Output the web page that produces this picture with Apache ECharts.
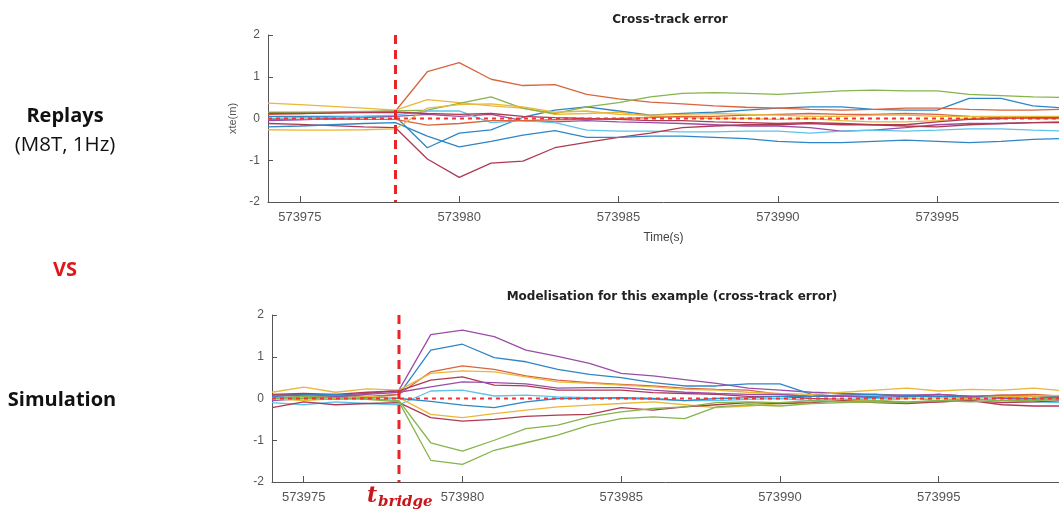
<!DOCTYPE html>
<html><head><meta charset="utf-8">
<script src="https://cdn.jsdelivr.net/npm/echarts@6/dist/echarts.min.js"></script>
<style>html,body{margin:0;padding:0;background:#fff}#c{width:1059px;height:513px}</style>
</head><body><div id="c"></div><script>
// time stamps (s), 1 Hz
const times = [573974,573975,573976,573977,573978,573979,573980,573981,573982,573983,573984,573985,573986,573987,573988,573989,573990,573991,573992,573993,573994,573995,573996,573997,573998,573999];
const xTickValues = [573975,573980,573985,573990,573995];
const tBridge = 573978;

// Replays (M8T, 1Hz) - cross-track error (m)
const rep1 = [0.05,0.05,0.05,0.05,0.05,-0.7,-0.35,-0.27,0.03,0.2,0.28,0.18,0.08,0.12,0.15,0.2,0.25,0.28,0.28,0.22,0.2,0.2,0.48,0.48,0.3,0.25];
const rep2 = [0.1,0.12,0.14,0.16,0.18,1.12,1.34,0.94,0.79,0.81,0.58,0.47,0.39,0.35,0.3,0.27,0.25,0.22,0.2,0.22,0.25,0.25,0.22,0.2,0.2,0.22];
const rep3 = [0.37,0.33,0.29,0.25,0.2,0.45,0.38,0.3,0.25,0.1,0.12,0.15,0.05,0.03,0.0,0.0,-0.02,0.0,-0.05,-0.08,-0.08,-0.05,0.0,0.0,0.02,0.0];
const rep4 = [-0.05,-0.03,0.0,0.02,0.05,0.1,0.05,0.1,-0.05,-0.08,-0.05,-0.08,-0.1,-0.12,-0.15,-0.18,-0.18,-0.22,-0.3,-0.28,-0.22,-0.15,-0.12,-0.12,-0.1,-0.08];
const rep5 = [0.15,0.15,0.16,0.17,0.18,0.2,0.36,0.52,0.24,0.12,0.28,0.38,0.52,0.6,0.62,0.6,0.58,0.62,0.66,0.68,0.66,0.66,0.58,0.55,0.52,0.5];
const rep6 = [0.0,0.02,0.03,0.05,0.08,0.18,0.18,-0.1,-0.05,-0.1,-0.28,-0.3,-0.3,-0.32,-0.32,-0.3,-0.3,-0.35,-0.3,-0.28,-0.3,-0.28,-0.25,-0.25,-0.28,-0.3];
const rep7 = [-0.12,-0.14,-0.17,-0.2,-0.22,-0.97,-1.41,-1.07,-1.02,-0.7,-0.57,-0.45,-0.35,-0.22,-0.18,-0.15,-0.15,-0.12,-0.15,-0.15,-0.15,-0.08,-0.02,0.0,0.02,0.02];
const rep8 = [-0.2,-0.18,-0.15,-0.12,-0.1,-0.42,-0.68,-0.55,-0.4,-0.29,-0.45,-0.45,-0.42,-0.42,-0.45,-0.48,-0.55,-0.58,-0.58,-0.55,-0.52,-0.55,-0.58,-0.55,-0.5,-0.48];
const rep9 = [-0.02,-0.02,-0.02,-0.02,-0.02,-0.16,-0.12,-0.05,-0.05,-0.03,-0.02,0.0,0.02,0.05,0.05,0.08,0.1,0.12,0.1,0.1,0.12,0.1,0.05,0.02,0.0,0.0];
const rep10 = [-0.27,-0.28,-0.28,-0.27,-0.25,0.25,0.33,0.35,0.28,0.15,0.18,0.1,0.08,0.1,0.12,0.1,0.08,0.05,0.05,0.08,0.08,0.05,0.05,0.05,0.05,0.05];
const rep11 = [0.12,0.12,0.13,0.14,0.15,0.12,0.1,0.12,0.05,0.02,0.0,-0.02,-0.05,-0.05,-0.08,-0.1,-0.12,-0.1,-0.12,-0.15,-0.18,-0.2,-0.15,-0.12,-0.1,-0.1];

// Simulation - cross-track error (m)
const sim1 = [0.05,0.1,0.08,0.12,0.2,1.53,1.64,1.48,1.16,1.01,0.84,0.6,0.54,0.45,0.36,0.25,0.2,0.15,0.12,0.1,0.08,0.1,0.05,0.08,0.05,0.05];
const sim2 = [0.08,0.1,0.05,0.02,0.1,1.16,1.3,0.98,0.88,0.7,0.58,0.5,0.38,0.3,0.3,0.35,0.35,0.1,0.05,0.05,0.08,0.05,0.05,0.02,0.0,0.05];
const sim3 = [0.0,0.05,0.02,0.05,0.1,0.64,0.78,0.7,0.54,0.44,0.38,0.34,0.3,0.25,0.22,0.2,0.1,0.05,0.08,0.1,0.05,0.1,0.05,0.08,0.1,0.05];
const sim4 = [0.15,0.27,0.15,0.23,0.2,0.6,0.66,0.64,0.52,0.4,0.36,0.32,0.28,0.22,0.2,0.15,0.12,0.1,0.15,0.2,0.25,0.18,0.22,0.2,0.25,0.18];
const sim5 = [0.1,0.12,0.1,0.15,0.18,0.44,0.52,0.32,0.3,0.2,0.2,0.2,0.14,0.12,0.1,0.05,0.05,0.0,-0.02,-0.05,-0.1,-0.08,-0.05,-0.15,-0.18,-0.18];
const sim6 = [-0.05,0.0,0.05,0.1,0.15,0.28,0.4,0.38,0.35,0.25,0.26,0.26,0.2,0.15,0.12,0.1,0.1,0.05,0.05,0.02,0.05,0.1,0.05,0.0,-0.02,0.0];
const sim7 = [-0.1,-0.15,-0.08,-0.12,-0.15,0.18,0.2,0.06,0.08,0.04,0.02,0.0,-0.02,-0.05,-0.05,-0.02,0.0,-0.05,-0.02,0.0,0.02,-0.05,0.0,-0.05,-0.08,-0.1];
const sim8 = [0.05,0.08,0.1,0.05,0.0,-0.07,-0.16,-0.22,-0.08,0.0,0.0,0.02,0.0,-0.05,0.0,0.02,0.05,0.05,0.08,0.1,0.05,0.05,0.02,0.05,0.05,0.02];
const sim9 = [0.0,-0.05,0.0,0.05,0.02,-0.38,-0.46,-0.36,-0.28,-0.2,-0.16,-0.12,-0.08,-0.15,-0.22,-0.18,-0.12,-0.08,-0.05,-0.05,0.0,0.02,0.0,0.05,0.05,0.08];
const sim10 = [-0.22,-0.08,-0.15,-0.12,-0.1,-0.46,-0.54,-0.5,-0.43,-0.4,-0.38,-0.22,-0.28,-0.2,-0.15,-0.1,-0.12,-0.1,-0.05,-0.1,-0.12,-0.08,-0.05,-0.1,-0.08,-0.05];
const sim11 = [0.02,0.0,-0.02,0.0,-0.05,-1.06,-1.26,-1.0,-0.72,-0.64,-0.44,-0.32,-0.24,-0.2,-0.1,-0.08,-0.1,-0.05,-0.08,-0.05,-0.08,-0.05,-0.02,-0.05,-0.05,-0.02];
const sim12 = [0.0,0.05,0.02,-0.02,-0.08,-1.48,-1.58,-1.24,-1.06,-0.88,-0.64,-0.48,-0.44,-0.48,-0.2,-0.15,-0.18,-0.12,-0.1,-0.08,-0.1,-0.05,-0.08,-0.05,-0.02,0.0];

const C = {blue:'#2f86c6', orange:'#d9653c', yellow:'#e9b73a', purple:'#9a4ea6', green:'#85b54b', lblue:'#5ec2ea', dred:'#ae3a52'};
const repSeries = [[rep1,C.blue],[rep2,C.orange],[rep3,C.yellow],[rep4,C.purple],[rep5,C.green],[rep6,C.lblue],[rep7,C.dred],[rep8,C.blue],[rep9,C.orange],[rep10,C.yellow],[rep11,C.dred]];
const simSeries = [[sim1,C.purple],[sim2,C.blue],[sim3,C.orange],[sim4,C.yellow],[sim5,C.dred],[sim6,C.purple],[sim7,C.lblue],[sim8,C.blue],[sim9,C.yellow],[sim10,C.dred],[sim11,C.green],[sim12,C.green]];

const axisCol = '#555';
function xAxis(gi, min, max, name){
  return {type:'value', gridIndex:gi, min:min, max:max,
    name:name||'', nameLocation:'middle', nameGap:30, nameTextStyle:{color:'#444',fontSize:12,fontFamily:'Liberation Sans'},
    axisLine:{show:true,onZero:false,lineStyle:{color:axisCol,width:1}},
    axisTick:{show:true,inside:true,length:6,customValues:xTickValues,lineStyle:{color:axisCol}},
    axisLabel:{customValues:xTickValues,color:'#555',fontSize:13,fontFamily:'Liberation Sans',margin:9,formatter:v=>String(v)},
    splitLine:{show:false}};
}
function yAxis(gi, name){
  return {type:'value', gridIndex:gi, min:-2, max:2, interval:1,
    name:name||'', nameLocation:'middle', nameGap:30, nameTextStyle:{color:'#555',fontSize:11,fontFamily:'Liberation Sans'},
    axisLine:{show:true,lineStyle:{color:axisCol,width:1}},
    axisTick:{show:true,inside:true,length:5,lineStyle:{color:axisCol}},
    axisLabel:{color:'#555',fontSize:12,fontFamily:'Liberation Sans',margin:8},
    splitLine:{show:false}};
}
const series = [];
function addLines(list, gi){
  list.forEach(([arr,col])=>{
    series.push({type:'line', xAxisIndex:gi, yAxisIndex:gi, data:times.map((t,i)=>[t,arr[i]]),
      symbol:'none', silent:true, lineStyle:{color:col,width:1.3}, z:2});
  });
  series.push({type:'line', xAxisIndex:gi, yAxisIndex:gi, data:[[times[0],0],[times[times.length-1],0]],
    symbol:'none', silent:true, lineStyle:{color:'#e8383a',width:1.8,type:[4,4]}, z:4});
  series.push({type:'line', xAxisIndex:gi, yAxisIndex:gi, data:[[tBridge,2],[tBridge,-2]],
    symbol:'none', silent:true, lineStyle:{color:'#e8262a',width:3,type:[9,6]}, z:5});
}
addLines(repSeries,0);
addLines(simSeries,1);

const chart = echarts.init(document.getElementById('c'), null, {renderer:'canvas'});
chart.setOption({
  animation:false,
  backgroundColor:'#fff',
  title:[
    {text:'Cross-track error', left:665, top:9, textAlign:'center', textStyle:{fontSize:12,fontWeight:'bold',color:'#222',fontFamily:'DejaVu Sans'}},
    {text:'Modelisation for this example (cross-track error)', left:667, top:286, textAlign:'center', textStyle:{fontSize:12,fontWeight:'bold',color:'#222',fontFamily:'DejaVu Sans'}}
  ],
  grid:[
    {left:268, top:35, height:167, right:0},
    {left:272, top:315, height:167, right:0}
  ],
  xAxis:[xAxis(0,573974,573998.82,'Time(s)'), xAxis(1,573974,573998.79,'')],
  yAxis:[yAxis(0,'xte(m)'), yAxis(1,'')],
  series:series,
  graphic:[
    {type:'text', style:{text:'Replays', x:65, y:116, align:'center', verticalAlign:'middle', fontSize:20, fontWeight:'bold', fill:'#111', fontFamily:'Open Sans'}},
    {type:'text', style:{text:'(M8T, 1Hz)', x:65, y:145, align:'center', verticalAlign:'middle', fontSize:20.5, fill:'#111', fontFamily:'Open Sans'}},
    {type:'text', style:{text:'VS', x:65, y:270, align:'center', verticalAlign:'middle', fontSize:20, fontWeight:'bold', fill:'#e3151a', fontFamily:'Open Sans'}},
    {type:'text', style:{text:'Simulation', x:62, y:400, align:'center', verticalAlign:'middle', fontSize:20, fontWeight:'bold', fill:'#111', fontFamily:'Open Sans'}},
    {type:'text', style:{text:'t', x:367, y:507, align:'left', verticalAlign:'bottom', fontSize:22, fontWeight:'bold', fontStyle:'italic', fill:'#c8161d', fontFamily:'DejaVu Serif'}},
    {type:'text', style:{text:'bridge', x:378, y:510, align:'left', verticalAlign:'bottom', fontSize:15, fontWeight:'bold', fontStyle:'italic', fill:'#c8161d', fontFamily:'DejaVu Serif'}}
  ]
});
</script></body></html>
